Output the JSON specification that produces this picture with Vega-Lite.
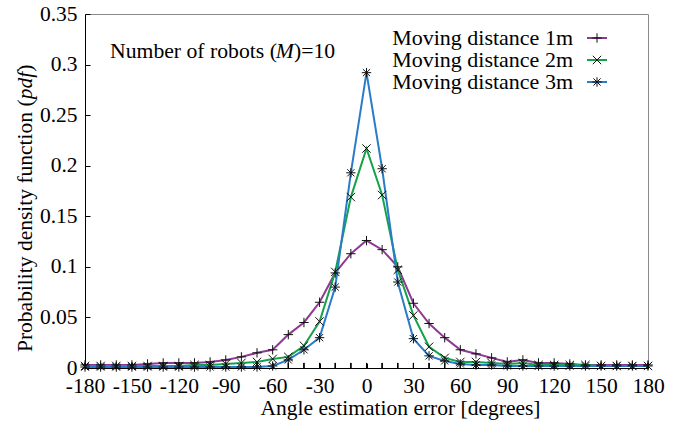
{
  "$schema": "https://vega.github.io/schema/vega-lite/v6.json",
  "width": 563,
  "height": 354,
  "autosize": {"type": "none"},
  "padding": {"left": 85, "top": 14, "right": 43, "bottom": 53},
  "background": "white",
  "config": {
    "font": "Liberation Serif",
    "view": {"stroke": "#8a8a8a", "strokeWidth": 1},
    "axis": {
      "grid": false,
      "domainColor": "black",
      "tickColor": "black",
      "labelColor": "black",
      "labelFont": "Liberation Serif",
      "labelFontSize": 21.5,
      "titleFont": "Liberation Serif",
      "titleFontSize": 21.5,
      "titleFontWeight": "normal",
      "titleColor": "black",
      "tickSize": -5,
      "domainWidth": 1,
      "tickWidth": 1,
      "labelOverlap": false,
      "labelFlush": false
    }
  },
  "datasets": {
    "pdf": [
      {"angle": -180, "series": "Moving distance 1m", "pdf": 0.003}, {"angle": -180, "series": "Moving distance 2m", "pdf": 0.002}, {"angle": -180, "series": "Moving distance 3m", "pdf": 0.001},
      {"angle": -170, "series": "Moving distance 1m", "pdf": 0.003}, {"angle": -170, "series": "Moving distance 2m", "pdf": 0.002}, {"angle": -170, "series": "Moving distance 3m", "pdf": 0.001},
      {"angle": -160, "series": "Moving distance 1m", "pdf": 0.003}, {"angle": -160, "series": "Moving distance 2m", "pdf": 0.002}, {"angle": -160, "series": "Moving distance 3m", "pdf": 0.001},
      {"angle": -150, "series": "Moving distance 1m", "pdf": 0.003}, {"angle": -150, "series": "Moving distance 2m", "pdf": 0.002}, {"angle": -150, "series": "Moving distance 3m", "pdf": 0.001},
      {"angle": -140, "series": "Moving distance 1m", "pdf": 0.004}, {"angle": -140, "series": "Moving distance 2m", "pdf": 0.002}, {"angle": -140, "series": "Moving distance 3m", "pdf": 0.001},
      {"angle": -130, "series": "Moving distance 1m", "pdf": 0.005}, {"angle": -130, "series": "Moving distance 2m", "pdf": 0.002}, {"angle": -130, "series": "Moving distance 3m", "pdf": 0.001},
      {"angle": -120, "series": "Moving distance 1m", "pdf": 0.005}, {"angle": -120, "series": "Moving distance 2m", "pdf": 0.002}, {"angle": -120, "series": "Moving distance 3m", "pdf": 0.001},
      {"angle": -110, "series": "Moving distance 1m", "pdf": 0.005}, {"angle": -110, "series": "Moving distance 2m", "pdf": 0.003}, {"angle": -110, "series": "Moving distance 3m", "pdf": 0.001},
      {"angle": -100, "series": "Moving distance 1m", "pdf": 0.006}, {"angle": -100, "series": "Moving distance 2m", "pdf": 0.003}, {"angle": -100, "series": "Moving distance 3m", "pdf": 0.001},
      {"angle": -90, "series": "Moving distance 1m", "pdf": 0.008}, {"angle": -90, "series": "Moving distance 2m", "pdf": 0.004}, {"angle": -90, "series": "Moving distance 3m", "pdf": 0.001},
      {"angle": -80, "series": "Moving distance 1m", "pdf": 0.011}, {"angle": -80, "series": "Moving distance 2m", "pdf": 0.005}, {"angle": -80, "series": "Moving distance 3m", "pdf": 0.001},
      {"angle": -70, "series": "Moving distance 1m", "pdf": 0.015}, {"angle": -70, "series": "Moving distance 2m", "pdf": 0.006}, {"angle": -70, "series": "Moving distance 3m", "pdf": 0.001},
      {"angle": -60, "series": "Moving distance 1m", "pdf": 0.018}, {"angle": -60, "series": "Moving distance 2m", "pdf": 0.009}, {"angle": -60, "series": "Moving distance 3m", "pdf": 0.002},
      {"angle": -50, "series": "Moving distance 1m", "pdf": 0.033}, {"angle": -50, "series": "Moving distance 2m", "pdf": 0.011}, {"angle": -50, "series": "Moving distance 3m", "pdf": 0.008},
      {"angle": -40, "series": "Moving distance 1m", "pdf": 0.045}, {"angle": -40, "series": "Moving distance 2m", "pdf": 0.022}, {"angle": -40, "series": "Moving distance 3m", "pdf": 0.018},
      {"angle": -30, "series": "Moving distance 1m", "pdf": 0.065}, {"angle": -30, "series": "Moving distance 2m", "pdf": 0.046}, {"angle": -30, "series": "Moving distance 3m", "pdf": 0.030},
      {"angle": -20, "series": "Moving distance 1m", "pdf": 0.094}, {"angle": -20, "series": "Moving distance 2m", "pdf": 0.095}, {"angle": -20, "series": "Moving distance 3m", "pdf": 0.080},
      {"angle": -10, "series": "Moving distance 1m", "pdf": 0.113}, {"angle": -10, "series": "Moving distance 2m", "pdf": 0.169}, {"angle": -10, "series": "Moving distance 3m", "pdf": 0.193},
      {"angle": 0, "series": "Moving distance 1m", "pdf": 0.126}, {"angle": 0, "series": "Moving distance 2m", "pdf": 0.217}, {"angle": 0, "series": "Moving distance 3m", "pdf": 0.292},
      {"angle": 10, "series": "Moving distance 1m", "pdf": 0.117}, {"angle": 10, "series": "Moving distance 2m", "pdf": 0.171}, {"angle": 10, "series": "Moving distance 3m", "pdf": 0.197},
      {"angle": 20, "series": "Moving distance 1m", "pdf": 0.100}, {"angle": 20, "series": "Moving distance 2m", "pdf": 0.097}, {"angle": 20, "series": "Moving distance 3m", "pdf": 0.085},
      {"angle": 30, "series": "Moving distance 1m", "pdf": 0.064}, {"angle": 30, "series": "Moving distance 2m", "pdf": 0.052}, {"angle": 30, "series": "Moving distance 3m", "pdf": 0.029},
      {"angle": 40, "series": "Moving distance 1m", "pdf": 0.044}, {"angle": 40, "series": "Moving distance 2m", "pdf": 0.021}, {"angle": 40, "series": "Moving distance 3m", "pdf": 0.012},
      {"angle": 50, "series": "Moving distance 1m", "pdf": 0.030}, {"angle": 50, "series": "Moving distance 2m", "pdf": 0.010}, {"angle": 50, "series": "Moving distance 3m", "pdf": 0.007},
      {"angle": 60, "series": "Moving distance 1m", "pdf": 0.018}, {"angle": 60, "series": "Moving distance 2m", "pdf": 0.006}, {"angle": 60, "series": "Moving distance 3m", "pdf": 0.004},
      {"angle": 70, "series": "Moving distance 1m", "pdf": 0.014}, {"angle": 70, "series": "Moving distance 2m", "pdf": 0.006}, {"angle": 70, "series": "Moving distance 3m", "pdf": 0.003},
      {"angle": 80, "series": "Moving distance 1m", "pdf": 0.010}, {"angle": 80, "series": "Moving distance 2m", "pdf": 0.005}, {"angle": 80, "series": "Moving distance 3m", "pdf": 0.003},
      {"angle": 90, "series": "Moving distance 1m", "pdf": 0.006}, {"angle": 90, "series": "Moving distance 2m", "pdf": 0.004}, {"angle": 90, "series": "Moving distance 3m", "pdf": 0.002},
      {"angle": 100, "series": "Moving distance 1m", "pdf": 0.008}, {"angle": 100, "series": "Moving distance 2m", "pdf": 0.005}, {"angle": 100, "series": "Moving distance 3m", "pdf": 0.002},
      {"angle": 110, "series": "Moving distance 1m", "pdf": 0.005}, {"angle": 110, "series": "Moving distance 2m", "pdf": 0.003}, {"angle": 110, "series": "Moving distance 3m", "pdf": 0.002},
      {"angle": 120, "series": "Moving distance 1m", "pdf": 0.005}, {"angle": 120, "series": "Moving distance 2m", "pdf": 0.003}, {"angle": 120, "series": "Moving distance 3m", "pdf": 0.002},
      {"angle": 130, "series": "Moving distance 1m", "pdf": 0.004}, {"angle": 130, "series": "Moving distance 2m", "pdf": 0.003}, {"angle": 130, "series": "Moving distance 3m", "pdf": 0.002},
      {"angle": 140, "series": "Moving distance 1m", "pdf": 0.003}, {"angle": 140, "series": "Moving distance 2m", "pdf": 0.003}, {"angle": 140, "series": "Moving distance 3m", "pdf": 0.002},
      {"angle": 150, "series": "Moving distance 1m", "pdf": 0.003}, {"angle": 150, "series": "Moving distance 2m", "pdf": 0.002}, {"angle": 150, "series": "Moving distance 3m", "pdf": 0.002},
      {"angle": 160, "series": "Moving distance 1m", "pdf": 0.003}, {"angle": 160, "series": "Moving distance 2m", "pdf": 0.002}, {"angle": 160, "series": "Moving distance 3m", "pdf": 0.002},
      {"angle": 170, "series": "Moving distance 1m", "pdf": 0.003}, {"angle": 170, "series": "Moving distance 2m", "pdf": 0.002}, {"angle": 170, "series": "Moving distance 3m", "pdf": 0.002},
      {"angle": 180, "series": "Moving distance 1m", "pdf": 0.003}, {"angle": 180, "series": "Moving distance 2m", "pdf": 0.002}, {"angle": 180, "series": "Moving distance 3m", "pdf": 0.002}
    ]
  },
  "layer": [
    {
      "data": {"name": "pdf"},
      "mark": {"type": "line", "strokeWidth": 2},
      "encoding": {
        "x": {
          "field": "angle", "type": "quantitative",
          "scale": {"domain": [-180, 180], "nice": false, "zero": false},
          "axis": {
            "values": [-180, -150, -120, -90, -60, -30, 0, 30, 60, 90, 120, 150, 180],
            "labelExpr": "'' + datum.value",
            "labelPadding": 12,
            "labelFlush": false,
            "labelOverlap": false,
            "title": "Angle estimation error [degrees]",
            "titleX": 315,
            "titleY": 46,
            "titleBaseline": "alphabetic"
          }
        },
        "y": {
          "field": "pdf", "type": "quantitative",
          "scale": {"domain": [0, 0.35], "nice": false, "zero": true},
          "axis": {
            "values": [0, 0.05, 0.1, 0.15, 0.2, 0.25, 0.3, 0.35],
            "labelExpr": "'' + datum.value",
            "labelPadding": 13,
            "labelFlush": false,
            "labelOverlap": false,
            "title": null
          }
        },
        "color": {
          "field": "series", "type": "nominal",
          "scale": {"range": ["#8e3a93", "#14a24a", "#2a7cc8"]},
          "legend": {
            "orient": "none", "legendX": 501, "legendY": 13, "title": null,
            "symbolType": "M-1,0H1", "symbolSize": 400, "symbolStrokeWidth": 2,
            "labelAlign": "right", "labelOffset": -35, "labelLimit": 0,
            "labelFont": "Liberation Serif", "labelFontSize": 22, "labelColor": "black",
            "rowPadding": -1.5, "padding": 0
          }
        }
      }
    },
    {
      "data": {"name": "pdf"},
      "mark": {"type": "rule", "color": "black", "strokeWidth": 1},
      "encoding": {
        "x": {"field": "angle", "type": "quantitative"},
        "y": {"datum": 0},
        "y2": {"datum": 0.005}
      }
    },
    {
      "data": {"name": "pdf"},
      "mark": {"type": "point", "filled": false, "stroke": "#111111", "strokeWidth": 1, "size": 400, "opacity": 1},
      "encoding": {
        "x": {"field": "angle", "type": "quantitative"},
        "y": {"field": "pdf", "type": "quantitative"},
        "shape": {
          "field": "series", "type": "nominal",
          "scale": {
            "domain": ["Moving distance 1m", "Moving distance 2m", "Moving distance 3m"],
            "range": [
              "M-0.47,0H0.47M0,-0.47V0.47",
              "M-0.42,-0.42L0.42,0.42M-0.42,0.42L0.42,-0.42",
              "M-0.47,0H0.47M0,-0.47V0.47M-0.36,-0.36L0.36,0.36M-0.36,0.36L0.36,-0.36"
            ]
          },
          "legend": {
            "orient": "none", "legendX": 501, "legendY": 13, "title": null,
            "symbolSize": 400, "symbolStrokeWidth": 1, "symbolStrokeColor": "#111111", "symbolFillColor": "transparent",
            "labelAlign": "right", "labelOffset": -35, "labelOpacity": 0, "labelLimit": 0,
            "labelFont": "Liberation Serif", "labelFontSize": 22,
            "rowPadding": -1.5, "padding": 0
          }
        }
      }
    },
    {
      "data": {"values": [{}]},
      "mark": {"type": "text", "text": "Number of robots (", "align": "left", "baseline": "alphabetic", "font": "Liberation Serif", "fontSize": 21.7, "color": "black"},
      "encoding": {"x": {"datum": -164}, "y": {"datum": 0.3065}}
    },
    {
      "data": {"values": [{}]},
      "mark": {"type": "text", "text": "M", "align": "left", "baseline": "alphabetic", "font": "Liberation Serif", "fontStyle": "italic", "fontSize": 21.7, "color": "black"},
      "encoding": {"x": {"datum": -58.0}, "y": {"datum": 0.3065}}
    },
    {
      "data": {"values": [{}]},
      "mark": {"type": "text", "text": ")=10", "align": "left", "baseline": "alphabetic", "font": "Liberation Serif", "fontSize": 21.7, "color": "black"},
      "encoding": {"x": {"datum": -46.4}, "y": {"datum": 0.3065}}
    },
    {
      "data": {"values": [{}]},
      "mark": {"type": "text", "text": "Probability density function (", "angle": 270, "align": "left", "baseline": "middle", "font": "Liberation Serif", "fontSize": 21.5, "color": "black"},
      "encoding": {"x": {"datum": -217.7}, "y": {"datum": 0.0158}}
    },
    {
      "data": {"values": [{}]},
      "mark": {"type": "text", "text": "pdf", "angle": 270, "align": "left", "baseline": "middle", "font": "Liberation Serif", "fontStyle": "italic", "fontSize": 21.5, "color": "black"},
      "encoding": {"x": {"datum": -217.7}, "y": {"datum": 0.2656}}
    },
    {
      "data": {"values": [{}]},
      "mark": {"type": "text", "text": ")", "angle": 270, "align": "left", "baseline": "middle", "font": "Liberation Serif", "fontSize": 21.5, "color": "black"},
      "encoding": {"x": {"datum": -217.7}, "y": {"datum": 0.2928}}
    }
  ]
}
